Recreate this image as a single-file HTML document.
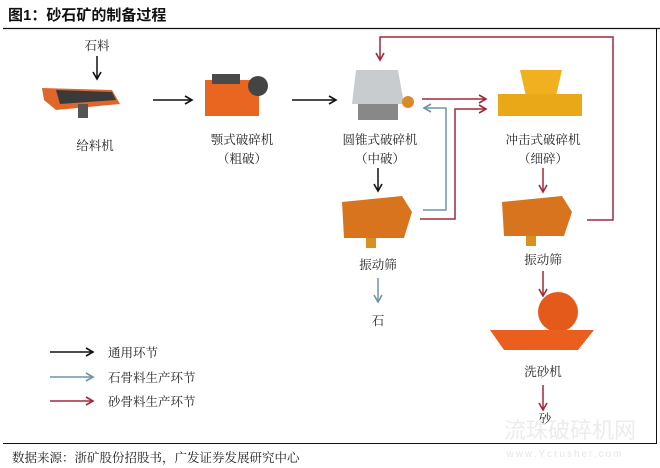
<!DOCTYPE html>
<html><head><meta charset="utf-8"><style>
html,body{margin:0;padding:0;background:#fff;}
svg{display:block;}
text{font-family:"Liberation Serif","Noto Serif CJK SC",serif;fill:#222;}
</style></head><body>
<svg width="660" height="468" viewBox="0 0 660 468" xmlns="http://www.w3.org/2000/svg">
<defs>
<marker id="ak" markerWidth="10" markerHeight="10" refX="8" refY="5" orient="auto" markerUnits="userSpaceOnUse"><path d="M1,1 L8,5 L1,9" fill="none" stroke="#111" stroke-width="1.6"/></marker>
<marker id="ab" markerWidth="10" markerHeight="10" refX="8" refY="5" orient="auto" markerUnits="userSpaceOnUse"><path d="M1,1 L8,5 L1,9" fill="none" stroke="#6f93ad" stroke-width="1.6"/></marker>
<marker id="ar" markerWidth="10" markerHeight="10" refX="8" refY="5" orient="auto" markerUnits="userSpaceOnUse"><path d="M1,1 L8,5 L1,9" fill="none" stroke="#a2283a" stroke-width="1.6"/></marker>
</defs>
<text x="8" y="20" style="font-family:'Liberation Sans','Noto Sans CJK SC',sans-serif;font-weight:bold;font-size:15px;fill:#111">图1：砂石矿的制备过程</text>
<line x1="3" y1="28.5" x2="660" y2="28.5" stroke="#111" stroke-width="1.2"/>
<line x1="656.5" y1="28" x2="656.5" y2="444" stroke="#111" stroke-width="1"/>
<line x1="3" y1="443.5" x2="657" y2="443.5" stroke="#111" stroke-width="1"/>

<!-- feeder -->
<polygon points="42,88 112,90 120,104 56,110 44,100" fill="#e0662a"/>
<polygon points="56,90 112,92 116,100 60,104" fill="#3a3a3a"/>
<rect x="78" y="104" width="10" height="14" fill="#555"/>
<!-- jaw -->
<rect x="205" y="80" width="54" height="36" fill="#e8661f"/>
<rect x="212" y="74" width="28" height="10" fill="#4a4a4a"/>
<circle cx="258" cy="86" r="10" fill="#444"/>
<!-- cone -->
<polygon points="356,70 398,70 404,104 352,104" fill="#c8ccce"/>
<rect x="358" y="104" width="40" height="16" fill="#888"/>
<circle cx="408" cy="102" r="6" fill="#d98a2a"/>
<!-- impact -->
<polygon points="520,70 562,70 556,96 526,96" fill="#f0b020"/>
<rect x="498" y="94" width="84" height="22" fill="#e8a818"/>
<!-- screens -->
<polygon points="342,202 402,196 412,212 404,238 344,238" fill="#d8741e"/>
<rect x="366" y="238" width="10" height="10" fill="#d89020"/>
<polygon points="502,202 562,196 572,212 564,236 504,236" fill="#d8741e"/>
<rect x="526" y="236" width="10" height="10" fill="#d89020"/>
<!-- washer -->
<circle cx="558" cy="312" r="20" fill="#e35a1a"/>
<polygon points="490,330 594,330 578,350 504,350" fill="#ea5f1e"/>

<!-- black arrows -->
<line x1="97" y1="56" x2="97" y2="79" stroke="#111" stroke-width="1.5" marker-end="url(#ak)"/>
<line x1="153" y1="100" x2="192" y2="100" stroke="#111" stroke-width="1.5" marker-end="url(#ak)"/>
<line x1="292" y1="100" x2="336" y2="100" stroke="#111" stroke-width="1.5" marker-end="url(#ak)"/>
<line x1="378" y1="168" x2="378" y2="191" stroke="#111" stroke-width="1.5" marker-end="url(#ak)"/>
<!-- red -->
<polyline points="587,220 613,220 613,37 380,37 380,60" fill="none" stroke="#a2283a" stroke-width="1.5" marker-end="url(#ar)"/>
<line x1="422" y1="99" x2="486" y2="99" stroke="#a2283a" stroke-width="1.5" marker-end="url(#ar)"/>
<polyline points="420,219 455,219 455,109 486,109" fill="none" stroke="#a2283a" stroke-width="1.5" marker-end="url(#ar)"/>
<line x1="543" y1="168" x2="543" y2="192" stroke="#a2283a" stroke-width="1.5" marker-end="url(#ar)"/>
<line x1="543" y1="271" x2="543" y2="296" stroke="#a2283a" stroke-width="1.5" marker-end="url(#ar)"/>
<line x1="543" y1="385" x2="543" y2="410" stroke="#a2283a" stroke-width="1.5" marker-end="url(#ar)"/>
<!-- blue -->
<polyline points="423,210 446,210 446,108 424,108" fill="none" stroke="#6f93ad" stroke-width="1.5" marker-end="url(#ab)"/>
<line x1="378" y1="278" x2="378" y2="302" stroke="#6f93ad" stroke-width="1.5" marker-end="url(#ab)"/>

<g font-size="12.5" text-anchor="middle">
<text x="97" y="50">石料</text>
<text x="95" y="150">给料机</text>
<text x="242" y="144">颚式破碎机</text>
<text x="242" y="163">（粗破）</text>
<text x="380" y="144">圆锥式破碎机</text>
<text x="380" y="163">（中破）</text>
<text x="543" y="144">冲击式破碎机</text>
<text x="543" y="163">（细碎）</text>
<text x="378" y="269">振动筛</text>
<text x="543" y="264">振动筛</text>
<text x="378" y="325">石</text>
<text x="543" y="376">洗砂机</text>
<text x="545" y="423">砂</text>
</g>

<line x1="50" y1="352" x2="93" y2="352" stroke="#111" stroke-width="1.5" marker-end="url(#ak)"/>
<line x1="50" y1="377" x2="93" y2="377" stroke="#6f93ad" stroke-width="1.5" marker-end="url(#ab)"/>
<line x1="50" y1="401" x2="93" y2="401" stroke="#a2283a" stroke-width="1.5" marker-end="url(#ar)"/>
<g font-size="12.5">
<text x="108" y="357">通用环节</text>
<text x="108" y="382">石骨料生产环节</text>
<text x="108" y="406">砂骨料生产环节</text>
</g>
<text x="12" y="462" font-size="12.5">数据来源：浙矿股份招股书，广发证券发展研究中心</text>
<text x="570" y="438" font-size="22" text-anchor="middle" style="fill:#ececec;font-family:'Liberation Sans','Noto Sans CJK SC',sans-serif">流珠破碎机网</text>
<text x="565" y="457" font-size="10" text-anchor="middle" style="fill:#e6e6e6;font-family:'Liberation Sans',sans-serif;letter-spacing:2px">www.Ycrusher.com</text>
</svg>
</body></html>
